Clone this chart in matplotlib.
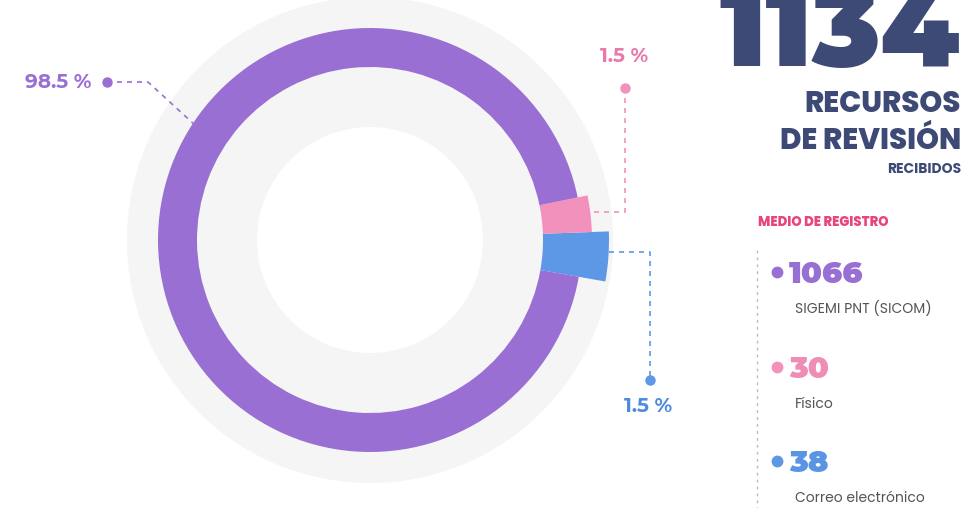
import matplotlib
matplotlib.use("Agg")
import matplotlib.pyplot as plt
from matplotlib import font_manager as fm
from matplotlib.patches import Wedge

# -----------------------------
# Daten
# -----------------------------
categories = ["SIGEMI PNT (SICOM)", "Físico", "Correo electrónico"]
counts = [1066, 30, 38]
pct_labels = ["98.5 %", "1.5 %", "1.5 %"]
total = 1134
title_lines = ["RECURSOS", "DE REVISIÓN"]
subtitle = "RECIBIDOS"
legend_title = "MEDIO DE REGISTRO"

colors = ["#9a6fd3", "#f291bb", "#5c98e6"]
num_colors = ["#9870d4", "#f08db6", "#5a94e4"]
pct_colors = ["#9a6fd3", "#e878ae", "#4d8ae0"]
navy = "#3e4a76"

# Schriften (mit Rückfall auf DejaVu)
installed = {f.name for f in fm.fontManager.ttflist}
NUM = ["Montserrat Alternates", "DejaVu Sans"] if "Montserrat Alternates" in installed else ["DejaVu Sans"]
BODY = ["Poppins", "DejaVu Sans"] if "Poppins" in installed else ["DejaVu Sans"]

# -----------------------------
# Figure (Pixel-Koordinaten, y nach unten)
# -----------------------------
W, H = 970, 508
fig = plt.figure(figsize=(W / 100, H / 100), dpi=100)
ax = fig.add_axes([0, 0, 1, 1])
ax.set_xlim(0, W)
ax.set_ylim(H, 0)
ax.set_aspect("equal")
ax.axis("off")

cx, cy = 370, 240

# grauer Hintergrundring
ax.add_patch(Wedge((cx, cy), 243, 0, 360, width=130, color="#f5f5f5", lw=0, zorder=1))

# Ring: ab -10° gegen den Uhrzeigersinn: Correo, Físico, SIGEMI
radii = {0: (173, 212), 1: (173, 222), 2: (173, 239)}
order = [2, 1, 0]
start = -10.0
for i in order:
    span = counts[i] / total * 360
    r_in, r_out = radii[i]
    # y-Achse invertiert -> Winkel spiegeln
    ax.add_patch(Wedge((cx, cy), r_out, -(start + span), -start,
                       width=r_out - r_in, color=colors[i], lw=0, zorder=2))
    start += span

# -----------------------------
# Beschriftungen mit Führungslinien
# -----------------------------
dash = dict(ls=(0, (3, 3)), lw=1.2, zorder=3)
pct_font = dict(family=NUM, fontweight=700, fontsize=14.5)

# 98.5 %
ax.plot([107, 148, 196], [82, 82, 126], color=colors[0], **dash)
ax.plot(107, 82, "o", ms=6.5, color=colors[0], zorder=4)
ax.text(91, 82, pct_labels[0], ha="right", va="center", color=pct_colors[0], **pct_font)

# 1.5 % Físico
ax.plot([625, 625, 593], [88, 212, 212], color=colors[1], **dash)
ax.plot(625, 88, "o", ms=6.5, color=colors[1], zorder=4)
ax.text(624, 57, pct_labels[1], ha="center", va="center", color=pct_colors[1], **pct_font)

# 1.5 % Correo
ax.plot([609, 650, 650], [252, 252, 380], color=colors[2], **dash)
ax.plot(650, 380, "o", ms=6.5, color=colors[2], zorder=4)
ax.text(648, 406, pct_labels[2], ha="center", va="center", color=pct_colors[2], **pct_font)

# -----------------------------
# Titel rechts
# -----------------------------
ax.text(960, 66, str(total), ha="right", va="baseline", fontsize=80,
        family=NUM, fontweight=900, color=navy)
ax.text(961, 112, title_lines[0], ha="right", va="baseline", fontsize=21,
        family=BODY, fontweight=800, color=navy)
ax.text(961, 149, title_lines[1], ha="right", va="baseline", fontsize=21,
        family=BODY, fontweight=800, color=navy)
ax.text(961, 173, subtitle, ha="right", va="baseline", fontsize=10,
        family=BODY, fontweight=700, color=navy)

# -----------------------------
# Legende
# -----------------------------
ax.text(758, 226, legend_title, ha="left", va="baseline", fontsize=9.5,
        family=BODY, fontweight=800, color="#e8457f")
ax.plot([757, 757], [250, 508], color="#bbbbbb", ls=(0, (2, 3)), lw=1)

legend_y = [272, 367, 461]
for i, y in enumerate(legend_y):
    ax.plot(777, y, "o", ms=7.5, color=colors[i])
    ax.text(789, y + 11, str(counts[i]), ha="left", va="baseline", fontsize=22,
            family=NUM, fontweight=900, color=num_colors[i])
    ax.text(795, y + 37, categories[i], ha="left", va="center", fontsize=10,
            family=BODY, color="#555555")

fig.savefig("out.png", dpi=100, facecolor="white")
